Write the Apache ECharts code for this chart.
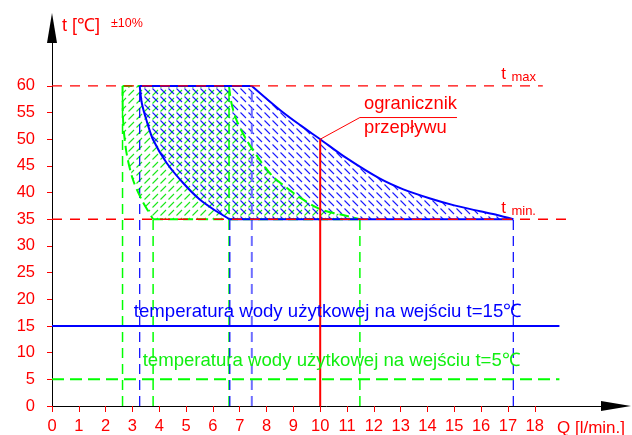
<!DOCTYPE html>
<html><head><meta charset="utf-8">
<script src="https://cdn.jsdelivr.net/npm/echarts@6/dist/echarts.min.js"></script>
<style>html,body{margin:0;padding:0;background:#fff}#c{width:632px;height:435px}</style>
</head><body><div id="c"></div>
<script>
// ---- data ----
const xTicks = [0,1,2,3,4,5,6,7,8,9,10,11,12,13,14,15,16,17,18];
const yTicks = [0,5,10,15,20,25,30,35,40,45,50,55,60];
const tMax = 60, tMin = 35;
// blue zone (inlet 15°C)
const blueOuter = [[7.45,60],[8.5,55.5],[9.24,52.7],[10,50],[11,46.4],[12.23,42.6],[13.1,40.6],[14.1,38.9],[15,37.6],[15.96,36.5],[16.6,35.8],[17.2,35]];
const blueInner = [[3.27,60],[3.35,56.75],[3.52,53.6],[3.77,49.9],[4.27,45.6],[4.89,41.8],[5.51,38.7],[6.13,36.5],[6.63,35]];
// green zone (inlet 5°C)
const greenOuter = [[6.6,60],[6.69,56.8],[6.88,53.6],[7.25,49.9],[7.75,46.1],[8.24,43],[8.75,40.9],[9.24,39.1],[10,36.9],[11,35.6],[11.48,35]];
const greenInner = [[2.63,60],[2.65,53.6],[2.78,47.4],[3.02,42.4],[3.34,38.7],[3.77,35]];
const greenVFull = [2.63, 6.6];      // dashed green verticals 0..60
const greenVLow = [3.77, 11.48];     // dashed green verticals 0..35
const blueVFull = [3.27];            // dashed blue verticals 0..60
const blueVLow = [6.63, 17.2];       // dashed blue verticals 0..35
const blueVLight = [7.45];           // light blue dashed 0..60
const inletBlue = 15, inletGreen = 5;
const limiterQ = 10, limiterT = 50;
const lineEndX = 18.92;
const tMaxEnd = 18.3, tMinEnd = 19.2;
const leader = [[10,50],[11.48,54.07],[15.1,54.07]];
const labelTexts = {
  blue: 'temperatura wody użytkowej na wejściu t=15℃',
  green: 'temperatura wody użytkowej na wejściu t=5℃',
  lim1: 'ogranicznik', lim2: 'przepływu'
};

// ---- rendering ----
const RED = '#ff0000', BLUE = '#0000ff', GREEN = '#00ff00', GTEXT = '#11ee11';
const FONT = '"Liberation Sans", Arial, sans-serif';

function hatch(color, back) {
  const c = document.createElement('canvas'); c.width = 8; c.height = 8;
  const g = c.getContext('2d'); g.strokeStyle = color; g.lineWidth = 1.1; g.lineCap = 'butt';
  g.beginPath();
  if (back) { g.moveTo(0.5,0.5); g.lineTo(6,6); }
  else { g.moveTo(0.5,7.5); g.lineTo(6,2); }
  g.stroke(); return c;
}
const bluePat = {image: hatch('rgba(0,0,255,0.9)', true), repeat: 'repeat'};
const greenPat = {image: hatch('rgba(0,230,0,0.9)', false), repeat: 'repeat'};

function region(poly, fill, z) {
  return {type:'custom', coordinateSystem:'cartesian2d', silent:true, z:z, clip:false,
    data: poly,
    renderItem: function (params, api) {
      if (params.dataIndex !== 0) return null;
      return {type:'polygon', shape:{points: poly.map(p => api.coord(p))}, style:{fill: fill, stroke:'none'}};
    }};
}
function line(data, color, width, type, z, smooth) {
  return {type:'line', data: data, symbol:'none', silent:true, smooth: smooth || false, z: z || 3,
    lineStyle:{color: color, width: width, type: type || 'solid'}, animation:false};
}
function texts(items) {
  return {type:'custom', coordinateSystem:'cartesian2d', silent:true, z:10, clip:false,
    data: items.map(t => [t.x, t.y]),
    renderItem: function (params, api) {
      const t = items[params.dataIndex];
      const p = api.coord([t.x, t.y]);
      return {type:'text', x:p[0], y:p[1], style:{text:t.text, fill:t.color, font: t.size + 'px ' + FONT, align:'left', verticalAlign:'middle'}};
    }};
}

const series = [];
series.push(region([...greenOuter, ...greenInner.slice().reverse()], greenPat, 1));
series.push(region([...blueOuter, ...blueInner.slice().reverse()], bluePat, 1));
// verticals
greenVFull.forEach(x => series.push(line([[x,0],[x,tMax]], GREEN, 1.5, [10,6])));
greenVLow.forEach(x => series.push(line([[x,0],[x,tMin]], GREEN, 1.5, [10,6])));
blueVFull.forEach(x => series.push(line([[x,0],[x,tMax]], BLUE, 1.2, [10,6])));
blueVLow.forEach(x => series.push(line([[x,0],[x,tMin]], BLUE, 1.2, [10,6])));
blueVLight.forEach(x => series.push(line([[x,0],[x,tMax]], '#6d6dff', 2, [10,6])));
// green boundary
series.push(line([[greenInner[0][0],tMax],[greenOuter[0][0],tMax]], GREEN, 2, [10,5], 4));
series.push(line([[greenInner[greenInner.length-1][0],tMin],[greenOuter[greenOuter.length-1][0],tMin]], GREEN, 2, [10,5], 4));
series.push(line(greenOuter, GREEN, 2, [10,5], 4, 0.3));
series.push(line(greenInner, GREEN, 2, [10,5], 4, 0.3));
// blue boundary
series.push(line([[blueInner[0][0],tMax],[blueOuter[0][0],tMax]], BLUE, 2, 'solid', 5));
series.push(line([[blueInner[blueInner.length-1][0],tMin],[blueOuter[blueOuter.length-1][0],tMin]], BLUE, 2, 'solid', 5));
series.push(line(blueOuter, BLUE, 2, 'solid', 5, 0.3));
series.push(line(blueInner, BLUE, 2, 'solid', 5, 0.3));
// inlet lines
series.push(line([[0,inletBlue],[lineEndX,inletBlue]], BLUE, 2, 'solid', 5));
series.push(line([[0,inletGreen],[lineEndX,inletGreen]], GREEN, 2, [12,6], 5));
// red limits
series.push(line([[0,tMax],[tMaxEnd,tMax]], RED, 1.3, [10,8], 6));
series.push(line([[0,tMin],[tMinEnd,tMin]], RED, 1.3, [10,8], 6));
series.push(line([[limiterQ,0],[limiterQ,limiterT]], RED, 2, 'solid', 6));
series.push(line(leader, RED, 1, 'solid', 6));
// text
series.push(texts([
  {x:3.05, y:17.7, text:labelTexts.blue, color:BLUE, size:18.6},
  {x:3.38, y:8.4, text:labelTexts.green, color:GTEXT, size:18.6},
  {x:11.63, y:56.6, text:labelTexts.lim1, color:RED, size:18.4},
  {x:11.63, y:52.1, text:labelTexts.lim2, color:RED, size:18.4},
  {x:16.75, y:62.2, text:'t', color:RED, size:17},
  {x:17.13, y:61.5, text:'max', color:RED, size:13},
  {x:16.75, y:37.1, text:'t', color:RED, size:17},
  {x:17.13, y:36.5, text:'min.', color:RED, size:13}
]));

const chart = echarts.init(document.getElementById('c'), null, {renderer:'canvas'});
chart.setOption({
  animation:false,
  backgroundColor:'#fff',
  grid:{left:52, right:31, top:43, bottom:28, containLabel:false},
  xAxis:{type:'value', min:0, max:20.47, interval:1,
    axisLine:{show:true, onZero:false, lineStyle:{color:'#000', width:1}, symbol:['none','triangle'], symbolSize:[10,30], symbolOffset:[0,15]},
    axisTick:{show:true, length:6, lineStyle:{color:RED, width:1}, customValues:xTicks},
    axisLabel:{color:RED, fontSize:16.5, fontFamily:FONT, margin:12, customValues:xTicks,
      formatter: v => (v <= 18 ? String(v) : '')},
    splitLine:{show:false}},
  yAxis:{type:'value', min:0, max:68.04, interval:5,
    axisLine:{show:true, onZero:false, lineStyle:{color:'#000', width:1}, symbol:['none','triangle'], symbolSize:[10,30], symbolOffset:[0,15]},
    axisTick:{show:true, length:5, lineStyle:{color:RED, width:1}, customValues:yTicks},
    axisLabel:{color:RED, fontSize:16.5, fontFamily:FONT, margin:17, customValues:yTicks,
      formatter: v => (v <= 60 ? String(v) : '')},
    splitLine:{show:false}},
  graphic:[
    {type:'text', left:62, top:17, style:{text:'t [℃]', fill:RED, font:'18px ' + FONT}},
    {type:'text', left:111, top:17, style:{text:'±10%', fill:RED, font:'12.5px ' + FONT}},
    {type:'text', left:557, top:420, style:{text:'Q [l/min.]', fill:RED, font:'17px ' + FONT}}
  ],
  series: series
});
</script></body></html>
